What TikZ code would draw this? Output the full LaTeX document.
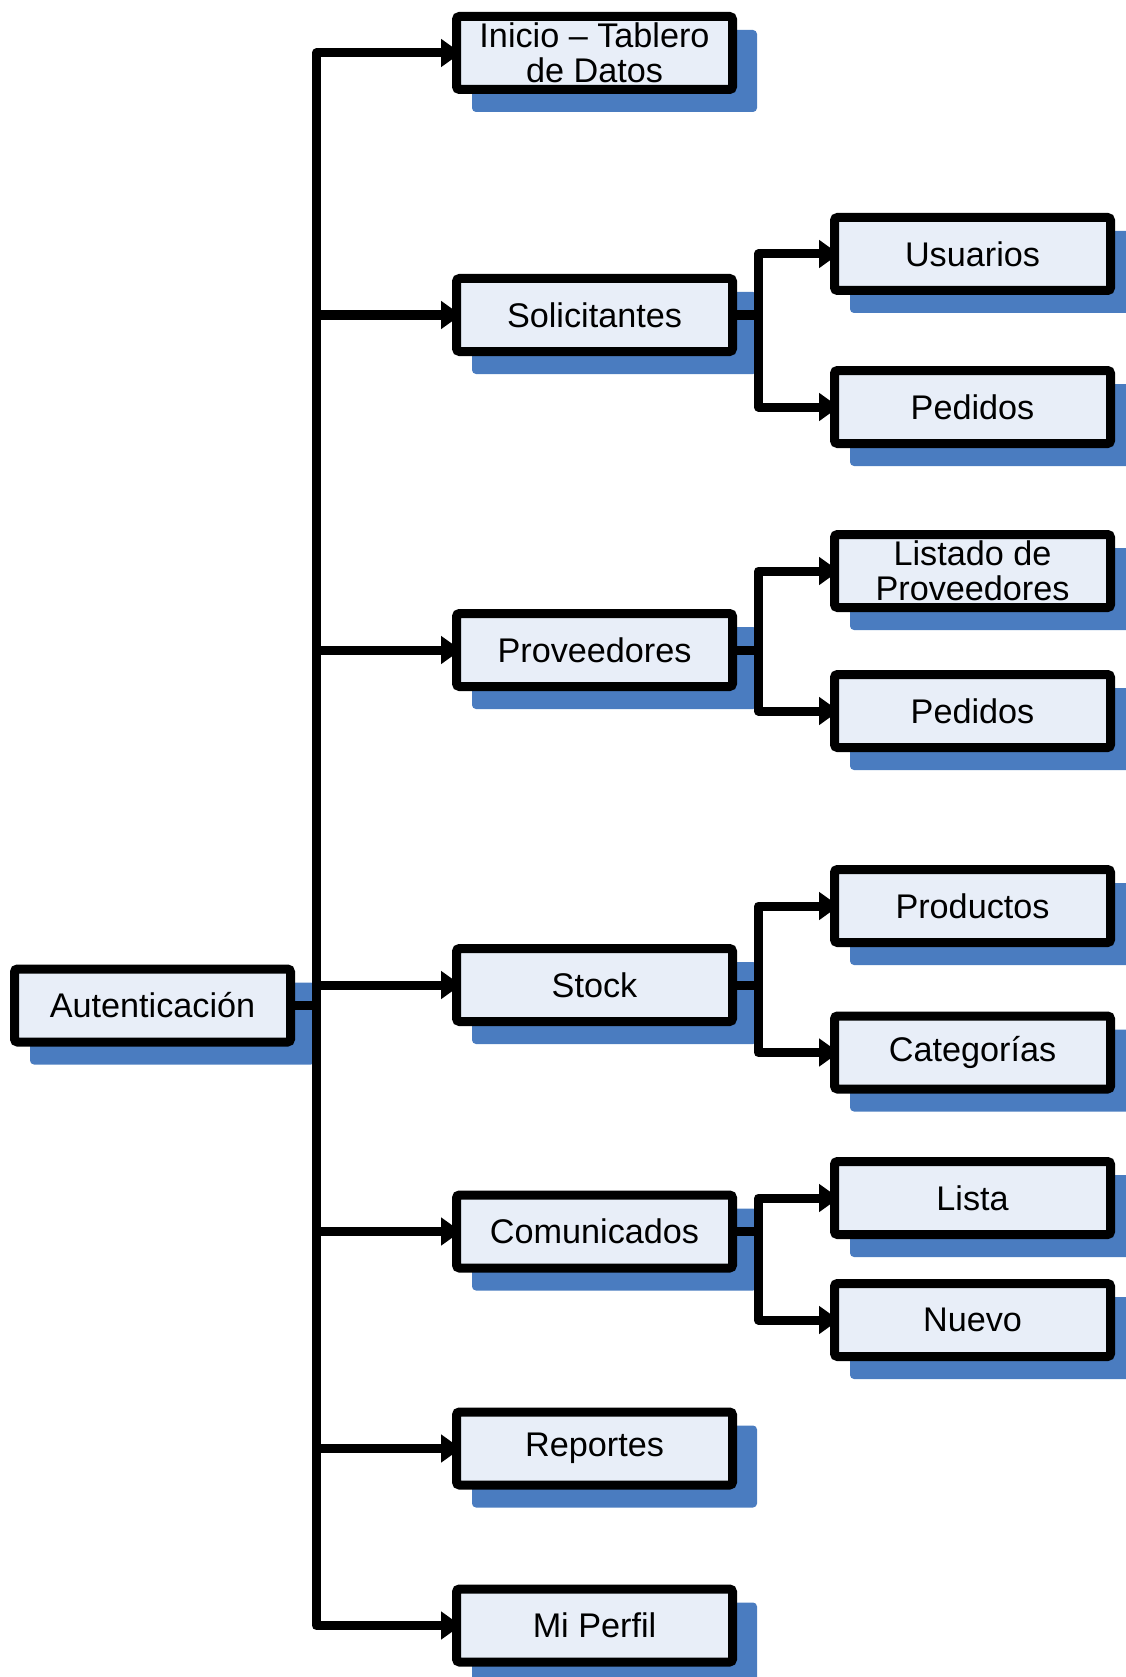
\documentclass[tikz,border=0pt]{standalone}
\usepackage{fontspec}
\setmainfont{Liberation Sans}
\usetikzlibrary{arrows.meta}
\pgfdeclarelayer{shadowlayer}
\pgfdeclarelayer{linklayer}
\pgfsetlayers{shadowlayer,linklayer,main}
\definecolor{boxfill}{RGB}{232,238,248}
\definecolor{shadowblue}{RGB}{74,124,192}

\begin{document}
\begin{tikzpicture}[x=1pt,y=-1pt,
  menubox/.style={draw=black, line width=9pt, fill=boxfill, rounded corners=3pt,
    minimum width=276pt, minimum height=73pt, inner sep=0pt, align=center,
    font=\fontsize{34.2}{35.5}\selectfont},
  link/.style={draw=black, line width=9pt, line join=round},
  arrowlink/.style={link, -{Triangle[length=20pt,width=27pt]}, shorten >=-9pt},
  bothlink/.style={link, {Triangle[length=20pt,width=27pt]}-{Triangle[length=20pt,width=27pt]},
    shorten >=-9pt, shorten <=-9pt}]
\useasboundingbox (0,0) rectangle (1126,1677);

% root
\node[menubox] (aut) at (152.5,1005.5) {Autenticación};

% first level
\node[menubox] (ini) at (594.5,53)     {Inicio – Tablero\\de Datos};
\node[menubox] (sol) at (594.5,315)    {Solicitantes};
\node[menubox] (pro) at (594.5,650)    {Proveedores};
\node[menubox] (sto) at (594.5,985)    {Stock};
\node[menubox] (com) at (594.5,1231.5) {Comunicados};
\node[menubox] (rep) at (594.5,1448.5) {Reportes};
\node[menubox] (mip) at (594.5,1625.5) {Mi Perfil};

% second level
\node[menubox] (usu)  at (972.5,254)    {Usuarios};
\node[menubox] (pedA) at (972.5,407)    {Pedidos};
\node[menubox] (lis)  at (972.5,571)    {Listado de\\Proveedores};
\node[menubox] (pedB) at (972.5,711)    {Pedidos};
\node[menubox] (prd)  at (972.5,906)    {Productos};
\node[menubox] (cat)  at (972.5,1052.5) {Categorías};
\node[menubox] (lst)  at (972.5,1198)   {Lista};
\node[menubox] (nue)  at (972.5,1320)   {Nuevo};

% drop shadows behind every box
\begin{pgfonlayer}{shadowlayer}
  \foreach \n in {aut,ini,sol,pro,sto,com,rep,mip,usu,pedA,lis,pedB,prd,cat,lst,nue}
    \fill[shadowblue, rounded corners=4pt]
      ([shift={(20,18)}]\n.north west) rectangle ([shift={(20,18)}]\n.south east);
\end{pgfonlayer}

% connectors
\begin{pgfonlayer}{linklayer}
  \coordinate (tr) at (316.5,1005.5);
  \draw[link] (aut.east) -- (tr);
  \draw[bothlink] (ini.west) -| (tr) |- (mip.west);
  \foreach \n in {sol,pro,sto,com,rep}
    \draw[arrowlink] (tr |- \n.west) -- (\n.west);

  \path (sol.east) ++(21.5,0) coordinate (sa);
  \draw[link] (sol.east) -- (sa);
  \draw[bothlink] (usu.west) -| (sa) |- (pedA.west);

  \path (pro.east) ++(21.5,0) coordinate (pa);
  \draw[link] (pro.east) -- (pa);
  \draw[bothlink] (lis.west) -| (pa) |- (pedB.west);

  \path (sto.east) ++(21.5,0) coordinate (ka);
  \draw[link] (sto.east) -- (ka);
  \draw[bothlink] (prd.west) -| (ka) |- (cat.west);

  \path (com.east) ++(21.5,0) coordinate (ca);
  \draw[link] (com.east) -- (ca);
  \draw[bothlink] (lst.west) -| (ca) |- (nue.west);
\end{pgfonlayer}
\end{tikzpicture}
\end{document}
